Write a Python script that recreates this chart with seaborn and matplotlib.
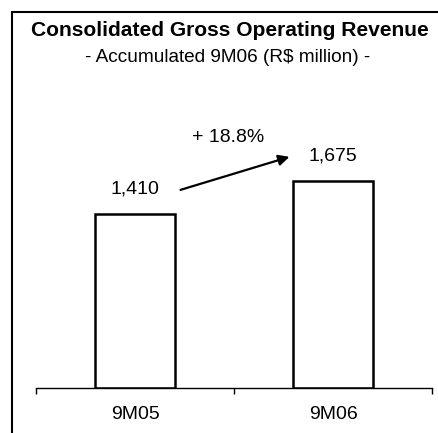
import matplotlib
matplotlib.use("Agg")
import matplotlib.pyplot as plt
import seaborn as sns
import pandas as pd

periods = ["9M05", "9M06"]
revenue = [1410, 1675]
value_labels = ["1,410", "1,675"]
growth_label = "+ 18.8%"
title = "Consolidated Gross Operating Revenue"
subtitle = "- Accumulated 9M06 (R$ million) -"

sns.set_theme(style="white")
plt.rcParams["font.family"] = ["Liberation Sans", "DejaVu Sans"]

df = pd.DataFrame({"period": periods, "revenue": revenue})

fig = plt.figure(figsize=(4.38, 4.33), dpi=100)
W, H = 438, 433
ax = fig.add_axes([36 / W, (H - 388) / H, (432 - 36) / W, (388 - 100) / H])

sns.barplot(data=df, x="period", y="revenue", ax=ax, width=0.405,
            color="white", edgecolor="black", linewidth=1.8, saturation=1)

ax.set_xlim(-0.5, 1.5)
ax.set_ylim(0, 2330)
for s in ["left", "right", "top"]:
    ax.spines[s].set_visible(False)
ax.spines["bottom"].set_linewidth(1.0)
ax.spines["bottom"].set_color("black")
ax.set_yticks([])
ax.set_xlabel("")
ax.set_ylabel("")
ax.tick_params(axis="x", which="major", length=0, pad=13, labelsize=14)
ax.set_xticks([-0.5, 0.5, 1.5], minor=True)
ax.tick_params(axis="x", which="minor", length=4, width=1.0, color="black",
               direction="out", bottom=True)
for lab in ax.get_xticklabels():
    lab.set_color("black")

# value labels
for i, (v, t) in enumerate(zip(revenue, value_labels)):
    ax.annotate(t, xy=(i, v), xytext=(0, 18), textcoords="offset points",
                ha="center", va="center", fontsize=14, color="black")

# growth arrow
ax.annotate("", xy=(1 - 0.22, revenue[1] + 195), xytext=(0 + 0.23, revenue[0] + 193),
            arrowprops=dict(arrowstyle="-|>", color="black", lw=1.6,
                            mutation_scale=16, shrinkA=0, shrinkB=0))
ax.annotate(growth_label, xy=(0.47, revenue[1] + 195), xytext=(0, 14),
            textcoords="offset points", ha="center", va="center",
            fontsize=14, color="black")

fig.text(230 / W, 1 - 30 / H, title, ha="center", va="center",
         fontsize=15.1, fontweight="bold", color="black")
fig.text(228 / W, 1 - 57 / H, subtitle, ha="center", va="center",
         fontsize=13.7, color="black")

# frame lines (left and top)
fig.add_artist(plt.Line2D([12 / W, 12 / W], [0, 1 - 12 / H], transform=fig.transFigure,
                          color="black", lw=1.5))
fig.add_artist(plt.Line2D([12 / W, 1], [1 - 12 / H, 1 - 12 / H], transform=fig.transFigure,
                          color="black", lw=1.5))

fig.savefig("out.png", dpi=100, facecolor="white")
